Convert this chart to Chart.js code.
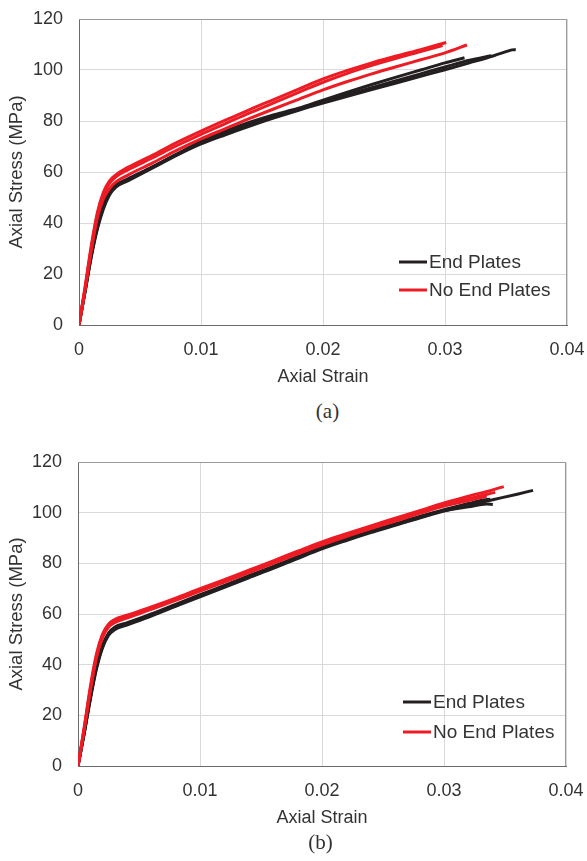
<!DOCTYPE html>
<html>
<head>
<meta charset="utf-8">
<title>Axial stress-strain</title>
<script src="https://cdn.jsdelivr.net/npm/chart.js@4.4.1/dist/chart.umd.min.js"></script>
<style>
  body { margin: 0; background: #fff; width: 587px; height: 861px; position: relative; overflow: hidden; }
  .panel { position: absolute; left: 0; width: 587px; height: 395px; }
  .caption { position: absolute; width: 587px; text-align: center; font-family: "Liberation Serif", "DejaVu Serif", serif; font-size: 21px; color: #333; line-height: 24px; }
</style>
</head>
<body>
<div class="panel" style="top:0"><canvas id="chartA"></canvas></div>
<div class="caption" style="top:399px; left:34px;">(a)</div>
<div class="panel" style="top:443px"><canvas id="chartB"></canvas></div>
<div class="caption" style="top:830px; left:27px;">(b)</div>

<script>
// axis ticks
const strainTicks = [0, 0.01, 0.02, 0.03, 0.04];
const stressTicks = [0, 20, 40, 60, 80, 100, 120];
const legendLabels = ["End Plates", "No End Plates"];

// panel (a): [strain, stress MPa]
const endPlatesA1 = [[0,0],[0.0005,13],[0.001,26.5],[0.0015,37.5],[0.002,45.5],[0.0025,51],[0.003,54],[0.004,56.5],[0.006,61.5],[0.008,66.5],[0.01,71],[0.012,74.6],[0.014,78],[0.016,81.2],[0.018,84.2],[0.02,87],[0.022,89.7],[0.024,92.3],[0.026,94.9],[0.028,97.5],[0.03,100.1],[0.032,102.8],[0.034,105.6],[0.0352,107.5],[0.0355,107.9],[0.0358,108]];
const endPlatesA2 = [[0,0],[0.0005,13.5],[0.001,27.5],[0.0015,39],[0.002,47],[0.0025,52],[0.003,54.8],[0.004,57.3],[0.006,62],[0.008,67],[0.01,72],[0.012,76],[0.014,79.5],[0.016,82.5],[0.018,85],[0.02,88.2],[0.022,91.3],[0.024,94.3],[0.026,97.2],[0.028,100],[0.03,102.8],[0.0316,104.8]];
const endPlatesA3 = [[0,0],[0.0005,13.2],[0.001,27],[0.0015,38.2],[0.002,46.2],[0.0025,51.5],[0.003,54.4],[0.004,56.9],[0.006,61.8],[0.008,66.8],[0.01,71.5],[0.012,75.2],[0.014,78.6],[0.016,81.8],[0.018,84.7],[0.02,87.6],[0.022,90.4],[0.024,93.1],[0.026,95.8],[0.028,98.5],[0.03,101.2],[0.032,103.8],[0.0338,105.6]];
const noPlatesA1 = [[0,0],[0.0005,15],[0.001,31],[0.0015,44],[0.002,52],[0.0025,56.5],[0.003,58.8],[0.004,61.8],[0.006,66.5],[0.008,71.5],[0.01,76],[0.012,80.3],[0.014,84.5],[0.016,88.5],[0.018,92.5],[0.02,96.5],[0.022,99.8],[0.024,102.8],[0.026,105.5],[0.028,108],[0.0295,110],[0.0301,110.8]];
const noPlatesA2 = [[0,0],[0.0005,14.5],[0.001,30],[0.0015,43],[0.002,51],[0.0025,55.5],[0.003,58],[0.004,60.8],[0.006,65.5],[0.008,70.3],[0.01,74.8],[0.012,79],[0.014,83.2],[0.016,87.2],[0.018,91.2],[0.02,95.2],[0.022,98.7],[0.024,101.8],[0.026,104.6],[0.028,107.2],[0.0298,109.6]];
const noPlatesA3 = [[0,0],[0.0005,14],[0.001,29],[0.0015,42],[0.002,49.5],[0.0025,53.5],[0.003,56],[0.004,58.8],[0.006,63.5],[0.008,68.5],[0.01,73],[0.012,77],[0.014,81],[0.016,84.8],[0.018,88.5],[0.02,92.2],[0.022,95.5],[0.024,98.5],[0.026,101.3],[0.028,104],[0.03,106.7],[0.0318,109.8]];

// panel (b)
const endPlatesB1 = [[0,0],[0.0005,12.5],[0.001,26],[0.0015,38],[0.002,46.5],[0.0025,51.5],[0.003,53.8],[0.004,55.6],[0.006,59.2],[0.008,63],[0.01,66.8],[0.012,70.5],[0.014,74.3],[0.016,78],[0.018,81.9],[0.02,85.7],[0.022,89],[0.024,92.1],[0.026,95],[0.028,97.9],[0.03,100.6],[0.032,102.9],[0.034,105.1],[0.036,107.3],[0.0373,108.8]];
const endPlatesB2 = [[0,0],[0.0005,12.8],[0.001,26.5],[0.0015,38.6],[0.002,47],[0.0025,52],[0.003,54.3],[0.004,56],[0.006,59.6],[0.008,63.4],[0.01,67.2],[0.012,70.9],[0.014,74.7],[0.016,78.4],[0.018,82.2],[0.02,86],[0.022,89.3],[0.024,92.4],[0.026,95.3],[0.028,98.2],[0.03,100.8],[0.032,102.3],[0.0335,103.4],[0.034,103.2]];
const endPlatesB3 = [[0,0],[0.0005,13],[0.001,27],[0.0015,39.2],[0.002,47.5],[0.0025,52.5],[0.003,54.8],[0.004,56.5],[0.006,60],[0.008,63.8],[0.01,67.6],[0.012,71.3],[0.014,75.1],[0.016,78.8],[0.018,82.6],[0.02,86.3],[0.022,89.6],[0.024,92.7],[0.026,95.6],[0.028,98.5],[0.03,101.2],[0.032,103.6],[0.0332,105],[0.0338,105.3]];
const noPlatesB1 = [[0,0],[0.0005,15],[0.001,31],[0.0015,44],[0.002,52],[0.0025,56],[0.003,57.8],[0.004,59.5],[0.006,62.8],[0.008,66.3],[0.01,70],[0.012,73.6],[0.014,77.3],[0.016,81],[0.018,84.8],[0.02,88.5],[0.022,91.7],[0.024,94.8],[0.026,97.8],[0.028,100.8],[0.03,103.8],[0.032,106.5],[0.034,109],[0.0349,110.3]];
const noPlatesB2 = [[0,0],[0.0005,14.5],[0.001,30],[0.0015,43],[0.002,51],[0.0025,55.2],[0.003,57],[0.004,58.8],[0.006,62.2],[0.008,65.8],[0.01,69.4],[0.012,73],[0.014,76.7],[0.016,80.4],[0.018,84.1],[0.02,87.7],[0.022,91],[0.024,94.1],[0.026,97.1],[0.028,100.1],[0.03,103],[0.032,105.5],[0.0342,108]];
const noPlatesB3 = [[0,0],[0.0005,14.2],[0.001,29.5],[0.0015,42.5],[0.002,50.5],[0.0025,54.8],[0.003,56.6],[0.004,58.4],[0.006,61.8],[0.008,65.4],[0.01,69],[0.012,72.6],[0.014,76.3],[0.016,80],[0.018,83.7],[0.02,87.3],[0.022,90.6],[0.024,93.7],[0.026,96.7],[0.028,99.7],[0.03,102.6],[0.032,104.8],[0.0335,106.5]];

const BLACK = "#231f20";
const RED = "#ed1c24";
const FONT = "'Liberation Sans', Arial, sans-serif";
const TEXT = "#333333";

function curve(points, color) {
  return {
    data: points.map(p => ({ x: p[0], y: p[1] })),
    borderColor: color,
    backgroundColor: color,
    borderWidth: 3,
    pointRadius: 0,
    showLine: true,
    fill: false,
    cubicInterpolationMode: "monotone"
  };
}

// frame on the top and right, darker than the grid
const plotFrame = {
  id: "plotFrame",
  afterDatasetsDraw(chart) {
    const a = chart.chartArea, ctx = chart.ctx;
    ctx.save();
    ctx.strokeStyle = "#9a9a9a";
    ctx.lineWidth = 1;
    ctx.beginPath();
    ctx.moveTo(a.left, a.top + 0.5);
    ctx.lineTo(a.right - 0.5, a.top + 0.5);
    ctx.lineTo(a.right - 0.5, a.bottom);
    ctx.stroke();
    ctx.restore();
  }
};

// legend drawn in the lower right of the plot area
const plateLegend = {
  id: "plateLegend",
  afterDraw(chart, args, opts) {
    const a = chart.chartArea, ctx = chart.ctx;
    const colors = [BLACK, RED];
    ctx.save();
    ctx.font = "19px " + FONT;
    ctx.textBaseline = "middle";
    ctx.fillStyle = TEXT;
    legendLabels.forEach((label, i) => {
      const y = a.bottom - opts.rows[i];
      const x0 = a.right - opts.fromRight;
      ctx.strokeStyle = colors[i];
      ctx.lineWidth = 3;
      ctx.beginPath();
      ctx.moveTo(x0, y);
      ctx.lineTo(x0 + 28, y);
      ctx.stroke();
      ctx.fillText(label, x0 + 30, y + 1);
    });
    ctx.restore();
  }
};

function drawPanel(id, blacks, reds, cfg) {
  const datasets = reds.map(c => curve(c, RED)).concat(blacks.map(c => curve(c, BLACK)));
  return new Chart(document.getElementById(id), {
    type: "scatter",
    data: { datasets: datasets },
    plugins: [plotFrame, plateLegend],
    options: {
      responsive: true,
      maintainAspectRatio: false,
      animation: false,
      layout: { padding: { top: 19, right: cfg.right, left: 0, bottom: 0 } },
      plugins: {
        legend: { display: false },
        tooltip: { enabled: false },
        plateLegend: { rows: cfg.rows, fromRight: cfg.fromRight }
      },
      scales: {
        x: {
          type: "linear",
          min: 0,
          max: 0.04,
          afterBuildTicks: s => { s.ticks = strainTicks.map(v => ({ value: v })); },
          afterFit: s => { s.height = cfg.xHeight; s.paddingLeft = 0; s.paddingRight = 0; },
          grid: { color: "#d9d9d9", drawTicks: false },
          border: { color: "#6a6a6a", width: 1 },
          ticks: {
            padding: 14,
            color: TEXT,
            font: { family: FONT, size: 18 },
            maxRotation: 0,
            callback: v => String(Number(v.toFixed(2)))
          },
          title: {
            display: true,
            text: "Axial Strain",
            color: TEXT,
            font: { family: FONT, size: 18 },
            padding: { top: 0, bottom: cfg.xTitlePad }
          }
        },
        y: {
          min: 0,
          max: 120,
          afterBuildTicks: s => { s.ticks = stressTicks.map(v => ({ value: v })); },
          afterFit: s => { s.width = cfg.left; s.paddingTop = 0; s.paddingBottom = 0; },
          grid: { color: "#d9d9d9", drawTicks: false },
          border: { color: "#6a6a6a", width: 1 },
          ticks: {
            padding: 16,
            color: TEXT,
            font: { family: FONT, size: 18 }
          },
          title: {
            display: true,
            text: "Axial Stress (MPa)",
            color: TEXT,
            font: { family: FONT, size: 18.5 },
            padding: { top: 6, bottom: 0 }
          }
        }
      }
    }
  });
}

drawPanel("chartA",
  [endPlatesA1, endPlatesA2, endPlatesA3],
  [noPlatesA1, noPlatesA2, noPlatesA3],
  { left: 79, right: 20, xHeight: 70, xTitlePad: 7, rows: [63, 35], fromRight: 168 });

drawPanel("chartB",
  [endPlatesB1, endPlatesB2, endPlatesB3],
  [noPlatesB1, noPlatesB2, noPlatesB3],
  { left: 78, right: 21, xHeight: 72, xTitlePad: 9, rows: [64, 34], fromRight: 163 });
</script>
</body>
</html>
